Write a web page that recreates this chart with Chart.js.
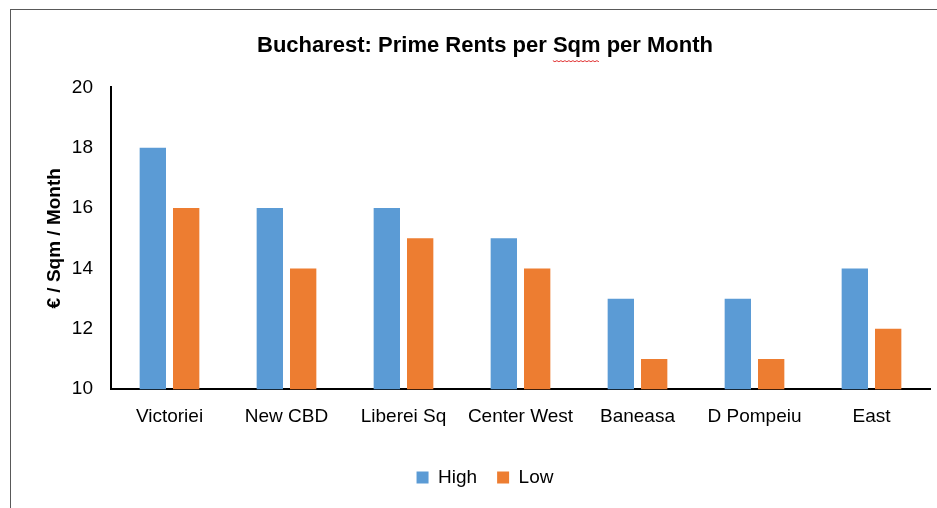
<!DOCTYPE html>
<html>
<head>
<meta charset="utf-8">
<script src="https://cdn.jsdelivr.net/npm/chart.js@4/dist/chart.umd.min.js"></script>
<style>
  html, body { margin: 0; padding: 0; background: #fff; }
  #wrap { position: relative; width: 937px; height: 508px; overflow: hidden; }
  #frame { position: absolute; left: 10px; top: 9px; width: 960px; height: 540px; border: 1px solid #595959; box-sizing: border-box; }
  canvas { position: absolute; left: 0; top: 0; }
</style>
</head>
<body>
<div id="wrap">
  <div id="frame"></div>
  <canvas id="grafico" width="937" height="508"></canvas>
</div>
<script>
// Dados do grafico
const zonas = ['Victoriei', 'New CBD', 'Liberei Sq', 'Center West', 'Baneasa', 'D Pompeiu', 'East'];
const valoresHigh = [18, 16, 16, 15, 13, 13, 14];
const valoresLow = [16, 14, 15, 14, 11, 11, 12];
const ticksY = [10, 12, 14, 16, 18, 20];

const fonte = "'Liberation Sans', Arial, sans-serif";
Chart.defaults.font.family = fonte;
Chart.defaults.color = '#000';

const tituloTexto = 'Bucharest: Prime Rents per Sqm per Month';
const tituloFonte = { size: 22, weight: 'bold' };

// sublinhado vermelho do corretor ortografico em "Sqm"
const sublinhado = {
  id: 'sublinhado',
  afterDraw(chart) {
    const tb = chart.titleBlock;
    if (!tb) return;
    const ctx = chart.ctx;
    ctx.save();
    ctx.font = 'bold ' + tituloFonte.size + 'px ' + fonte;
    const total = ctx.measureText(tituloTexto).width;
    const inicio = ctx.measureText('Bucharest: Prime Rents per ').width;
    const larg = ctx.measureText('Sqm').width;
    const cx = (tb.left + tb.right) / 2;
    const x0 = cx - total / 2 + inicio;
    const y = tb.top + tb.height / 2 + tituloFonte.size * 0.5 + 1;
    ctx.strokeStyle = '#e03030';
    ctx.lineWidth = 1;
    ctx.beginPath();
    for (let x = x0; x <= x0 + larg; x += 2) {
      const yy = y + (Math.round((x - x0) / 2) % 2 ? 1 : 0);
      if (x === x0) ctx.moveTo(x, yy); else ctx.lineTo(x, yy);
    }
    ctx.stroke();
    ctx.restore();
  },
};

new Chart(document.getElementById('grafico'), {
  type: 'bar',
  data: {
    labels: zonas,
    datasets: [
      { label: 'High', data: valoresHigh, backgroundColor: '#5B9BD5', categoryPercentage: 0.57, barPercentage: 0.79 },
      { label: 'Low', data: valoresLow, backgroundColor: '#ED7D31', categoryPercentage: 0.57, barPercentage: 0.79 },
    ],
  },
  options: {
    responsive: false,
    animation: false,
    layout: { padding: { left: 40, right: 7, top: 10, bottom: 11 } },
    plugins: {
      title: {
        display: true,
        text: tituloTexto,
        font: tituloFonte,
        color: '#000',
        padding: { top: 23, bottom: 28 },
      },
      legend: {
        position: 'bottom',
        labels: { boxWidth: 12, boxHeight: 12, font: { size: 19 }, padding: 20 },
      },
      tooltip: { enabled: false },
    },
    scales: {
      x: {
        grid: { display: false, drawTicks: false },
        border: { color: '#000', width: 2 },
        ticks: { font: { size: 19 }, padding: 16, maxRotation: 0 },
        afterFit: (scale) => { scale.height += 4; },
      },
      y: {
        min: 10,
        max: 20,
        grid: { display: false, drawTicks: false },
        border: { color: '#000', width: 2 },
        afterBuildTicks: (scale) => { scale.ticks = ticksY.map(v => ({ value: v })); },
        afterFit: (scale) => { scale.width = 71; },
        ticks: { font: { size: 19 }, padding: 18 },
        title: {
          display: true,
          text: '€ / Sqm / Month',
          font: { size: 19, weight: 'bold' },
          padding: { top: 3, bottom: 0 },
        },
      },
    },
  },
  plugins: [sublinhado],
});
</script>
</body>
</html>
